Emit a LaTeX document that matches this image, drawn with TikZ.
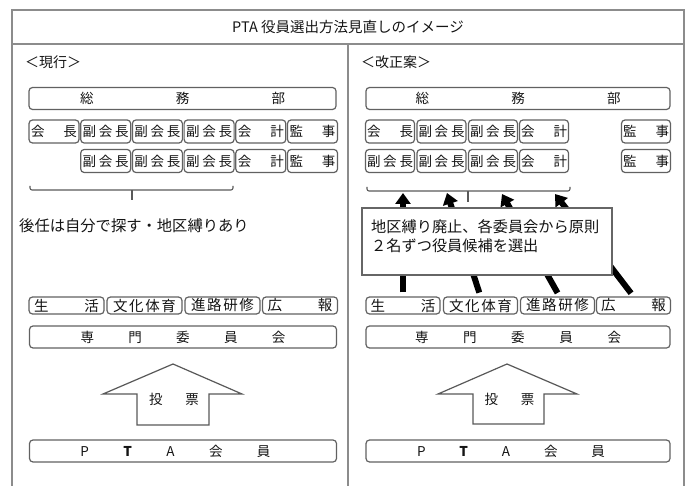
\documentclass[tikz,border=0pt]{standalone}
\usepackage{fontspec}
\setmainfont{Noto Sans CJK JP}
\usetikzlibrary{arrows.meta}
\newcommand\twoch[2]{\hbox to 46pt{#1\hfill #2}}
\newcommand\thrch[3]{\hbox to 46pt{#1\hfill #2\hfill #3}}
\newcommand\twocw[2]{\hbox to 65pt{#1\hfill #2}}
\newcommand\fourcw[4]{\hbox to 63pt{#1\hfill #2\hfill #3\hfill #4}}
\begin{document}
\begin{tikzpicture}[x=1pt,y=-1pt,
  frame/.style={draw=black!45, line width=1.4pt},
  bx/.style={draw=black!62, line width=1.2pt, rounded corners=3.5pt, fill=white,
    inner sep=0pt, text=black!92, font=\fontsize{13.5}{14}\selectfont},
  sb/.style={bx, minimum width=50pt, minimum height=23pt},
  wb/.style={bx, minimum width=307pt, minimum height=22pt},
  cb/.style={bx, minimum width=75pt, minimum height=17pt, font=\fontsize{14.5}{15}\selectfont},
  lbl/.style={inner sep=0pt, text=black!92, font=\fontsize{14}{15}\selectfont},
  bigarrow/.style={draw=black!65, line width=1.2pt, fill=white, line join=miter},
  brk/.style={draw=black!65, line width=1.1pt, rounded corners=2pt},
  fat/.style={draw=black, line width=6pt, shorten <=4pt,
    -{Triangle[width=15pt,length=11pt]}},
  note/.style={draw=black!60, line width=1.2pt, fill=white, minimum width=250pt,
    minimum height=67pt, inner sep=0pt}
]
\useasboundingbox (0,0) rectangle (685,486);
% frame
\draw[frame] (12,486) -- (12,10) -- (684,10) -- (684,486);
\draw[frame] (12,44) -- (684,44);
\draw[frame] (348,44) -- (348,486);
\node[lbl, font=\fontsize{14.5}{15}\selectfont] (title) at (348,27) {PTA 役員選出方法見直しのイメージ};
\node[lbl, anchor=west] (curr) at (25,62) {＜現行＞};
\node[lbl, anchor=west] (prop) at (361,62) {＜改正案＞};

% ---------------- left column ----------------
\node[wb] (som1) at (182.5,98.5) {\hbox to 205pt{総\hfill 務\hfill 部}};
\node[sb] (a11) at (54,131.5)    {\twoch{会}{長}};
\node[sb] (a12) at (105.7,131.5) {\thrch{副}{会}{長}};
\node[sb] (a13) at (157.4,131.5) {\thrch{副}{会}{長}};
\node[sb] (a14) at (209.1,131.5) {\thrch{副}{会}{長}};
\node[sb] (a15) at (260.8,131.5) {\twoch{会}{計}};
\node[sb] (a16) at (312.5,131.5) {\twoch{監}{事}};
\node[sb] (a22) at (105.7,161) {\thrch{副}{会}{長}};
\node[sb] (a23) at (157.4,161) {\thrch{副}{会}{長}};
\node[sb] (a24) at (209.1,161) {\thrch{副}{会}{長}};
\node[sb] (a25) at (260.8,161) {\twoch{会}{計}};
\node[sb] (a26) at (312.5,161) {\twoch{監}{事}};
\coordinate (bl1) at (30,186);
\coordinate (br1) at (233,186);
\coordinate (bt1) at (132,190);
\draw[brk] (bl1) -- (30,190) -- (233,190) -- (br1);
\draw[brk] (bt1) -- (132,200);
\node[lbl, anchor=west, font=\fontsize{15.3}{16}\selectfont] (succ) at (19,226) {後任は自分で探す・地区縛りあり};

\node[cb] (c11) at (66.5,305.5)  {\twocw{生}{活}};
\node[cb] (c12) at (144.5,305.5) {\fourcw{文}{化}{体}{育}};
\node[cb] (c13) at (222.5,305.5) {\fourcw{進}{路}{研}{修}};
\node[cb] (c14) at (300,305.5)   {\twocw{広}{報}};
\node[wb] (sen1) at (183,337) {\hbox to 205pt{専\hfill 門\hfill 委\hfill 員\hfill 会}};
\draw[bigarrow] (137,425) -- (137,394) -- (103,394) -- (173,364) -- (242,394) -- (209,394) -- (209,425) -- cycle;
\node[lbl, font=\fontsize{13.5}{14}\selectfont] (vote1) at (174,399) {\hbox to 50pt{投\hfill 票}};
\node[wb] (pta1) at (183,451) {\hbox to 307pt{\hskip 51pt P\hfill \textbf{T}\hfill A\hfill 会\hfill 員\hskip 66pt}};

% ---------------- right column ----------------
\node[wb, minimum width=304pt] (som2) at (518,98.5) {\hbox to 205pt{総\hfill 務\hfill 部}};
\node[sb, minimum width=49pt] (b11) at (390,131.5)   {\twoch{会}{長}};
\node[sb, minimum width=49pt] (b12) at (441.5,131.5) {\thrch{副}{会}{長}};
\node[sb, minimum width=49pt] (b13) at (493,131.5)   {\thrch{副}{会}{長}};
\node[sb, minimum width=49pt] (b14) at (544,131.5)   {\twoch{会}{計}};
\node[sb, minimum width=49pt] (b16) at (646,131.5)   {\twoch{監}{事}};
\node[sb, minimum width=49pt] (b21) at (390,161)   {\thrch{副}{会}{長}};
\node[sb, minimum width=49pt] (b22) at (441.5,161) {\thrch{副}{会}{長}};
\node[sb, minimum width=49pt] (b23) at (493,161)   {\thrch{副}{会}{長}};
\node[sb, minimum width=49pt] (b24) at (544,161)   {\twoch{会}{計}};
\node[sb, minimum width=49pt] (b26) at (646,161)   {\twoch{監}{事}};
\coordinate (bl2) at (367,187);
\coordinate (br2) at (570,187);
\coordinate (bt2) at (468,191);
\draw[brk] (bl2) -- (367,191) -- (570,191) -- (br2);
\draw[brk] (bt2) -- (468,202);

\node[cb, minimum width=74pt] (c21) at (403,305.5)   {\twocw{生}{活}};
\node[cb, minimum width=74pt] (c22) at (480.5,305.5) {\fourcw{文}{化}{体}{育}};
\node[cb, minimum width=74pt] (c23) at (557.5,305.5) {\fourcw{進}{路}{研}{修}};
\node[cb, minimum width=74pt] (c24) at (633.5,305.5) {\twocw{広}{報}};

\coordinate (t1) at (403,193);
\coordinate (t2) at (447,193);
\coordinate (t3) at (502,194);
\coordinate (t4) at (555,194);
\draw[fat] (c21.north) -- (t1);
\draw[fat] (c22.north) -- (t2);
\draw[fat] ([xshift=2pt]c23.north) -- (t3);
\draw[fat] (c24.north) -- (t4);

\node[note] (box) at (487,241.5) {};
\node[lbl, anchor=north west, align=left, font=\fontsize{15.2}{19}\selectfont] (notetext) at (371,219)
  {地区縛り廃止、各委員会から原則\\２名ずつ役員候補を選出};

\node[wb, minimum width=304pt] (sen2) at (518,337) {\hbox to 206pt{専\hfill 門\hfill 委\hfill 員\hfill 会}};
\draw[bigarrow] (473,424) -- (473,394) -- (438,394) -- (507,364) -- (577,394) -- (544,394) -- (544,424) -- cycle;
\node[lbl, font=\fontsize{13.5}{14}\selectfont] (vote2) at (509.5,399) {\hbox to 50pt{投\hfill 票}};
\node[wb, minimum width=304pt] (pta2) at (518,451) {\hbox to 304pt{\hskip 51pt P\hfill \textbf{T}\hfill A\hfill 会\hfill 員\hskip 65pt}};
\end{tikzpicture}
\end{document}
